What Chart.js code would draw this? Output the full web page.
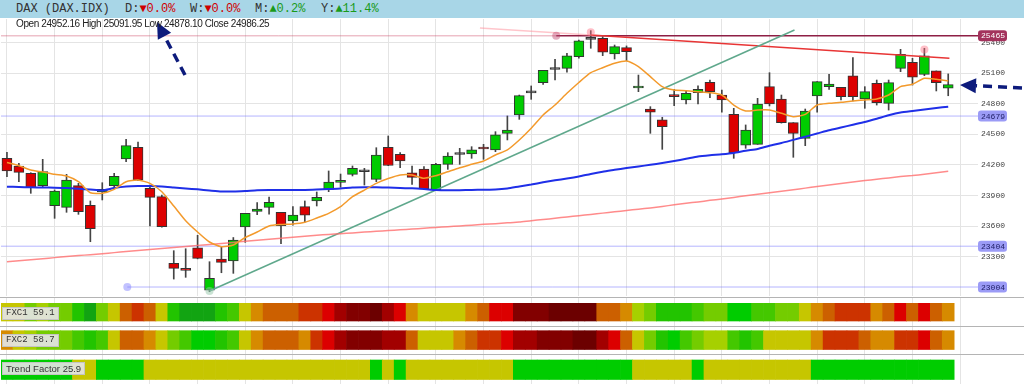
<!DOCTYPE html>
<html>
<head>
<meta charset="utf-8">
<script src="https://cdn.jsdelivr.net/npm/chart.js@4.4.1/dist/chart.umd.min.js"></script>
<style>
  body { margin: 0; background: #fff; }
  #wrap { position: relative; width: 1024px; height: 384px; overflow: hidden; background: #fff; }
  #header { position: absolute; left: 0; top: 0; width: 1024px; height: 18px; background: #a8d6e7;
            font: 12px "Liberation Mono", "DejaVu Sans Mono", monospace; color: #333; line-height: 18px; white-space: pre; }
  #header span.t { position: absolute; top: 0; }
  .dn { color: #d00000; }
  .up { color: #1a9a1a; }
  #ohlc { position: absolute; left: 16px; top: 18px; font: 10px "Liberation Sans", Arial, sans-serif;
          letter-spacing: -0.4px; color: #222; white-space: pre; line-height: 12px; z-index: 2; }
  #main { position: absolute; left: 0; top: 19px; }
  #panes { position: absolute; left: 0; top: 297px; }
  .tag { position: absolute; left: 2px; background: rgba(228,228,228,0.92); border: 1px solid #c4c4c4;
         color: #333; padding: 0 3px; height: 11px; line-height: 11px; white-space: pre; z-index: 2; }
  .mono { font: 9px "Liberation Mono", "DejaVu Sans Mono", monospace; }
  .sans { font: 9.5px "Liberation Sans", Arial, sans-serif; }
</style>
</head>
<body>
<div id="wrap">
  <div id="header">
    <span class="t" style="left:16px">DAX (DAX.IDX)</span>
    <span class="t" style="left:125px">D:<span class="dn">▼0.0%</span></span>
    <span class="t" style="left:190px">W:<span class="dn">▼0.0%</span></span>
    <span class="t" style="left:255px">M:<span class="up">▲0.2%</span></span>
    <span class="t" style="left:321px">Y:<span class="up">▲11.4%</span></span>
  </div>
  <div id="ohlc"></div>
  <canvas id="main" width="1024" height="277"></canvas>
  <canvas id="panes" width="1024" height="87"></canvas>
  <div class="tag mono" style="top:307px">FXC1 59.1</div>
  <div class="tag mono" style="top:334px">FXC2 58.7</div>
  <div class="tag sans" style="top:362px">Trend Factor 25.9</div>
</div>

<script>
// Daily candles
const opens = [24265,24190,24118,23997,23801,23785,23997,23805,23935,23997,
  24258,24373,23971,23889,23236,23187,23389,22974,23278,23259,
  23592,23744,23785,23736,23651,23791,23847,23961,24030,24108,
  24136,24059,24373,24304,24124,24160,23957,24206,24304,24307,
  24369,24347,24510,24690,24908,25006,25137,25147,25261,25431,
  25441,25287,25349,24954,24748,24641,24885,24837,24908,25010,
  24885,24696,24395,24402,24967,24846,24614,24461,24876,24967,
  24961,25072,24846,25000,24804,25147,25206,25088,25121,24952.16];
const highs = [24324,24216,24124,24255,23955,24108,24020,23847,24026,24118,
  24451,24425,24004,23906,23360,23379,23511,23252,23393,23489,
  23726,23832,23886,23736,23791,23847,23935,24141,24111,24190,
  24167,24369,24484,24320,24190,24183,24216,24320,24363,24379,
  24402,24526,24680,24885,24974,25127,25235,25294,25424,25516,
  25457,25375,25366,25081,24771,24667,24941,24928,24974,25032,
  24934,24755,24592,24853,25104,24885,24614,24748,25016,25088,
  24961,25251,24967,25032,25032,25333,25245,25343,25121,25091.95];
const lows = [24085,24036,23922,23981,23677,23736,23716,23448,23857,23971,
  24232,24045,23602,23590,23082,23099,23280,22958,23144,23138,
  23442,23714,23717,23428,23609,23641,23798,23938,23981,24092,
  24003,24036,24193,24173,24010,23964,23948,24157,24206,24265,
  24255,24330,24445,24647,24843,24990,25032,25108,25245,25343,
  25271,25238,25222,24918,24510,24353,24781,24797,24797,24859,
  24716,24265,24363,24402,24778,24610,24275,24389,24716,24941,
  24836,24827,24755,24787,24738,25114,24983,25075,24925,24878.10];
const closes = [24141,24128,23977,24134,23945,24052,23742,23575,23961,24089,
  24389,24052,23883,23595,23187,23167,23285,23089,23246,23464,
  23726,23768,23834,23605,23710,23707,23883,24033,24050,24167,
  24133,24297,24195,24239,24079,23964,24206,24288,24302,24347,
  24356,24494,24542,24879,24906,25127,25135,25268,25415,25430,
  25304,25359,25310,24964,24716,24575,24869,24902,24941,24918,
  24837,24320,24542,24797,24797,24614,24510,24729,25016,24993,
  24869,24869,24918,24810,25006,25284,25059,25268,25006,24986.25];

// Moving averages (orange short, blue medium, pink long)
const maShort = [24224,24193,24150,24131,24108,24092,24036,23928,23922,23961,
  24036,24052,24020,23938,23798,23654,23543,23445,23399,23415,
  23489,23543,23602,23616,23621,23638,23680,23726,23791,23889,
  23954,24020,24067,24102,24102,24069,24095,24134,24173,24206,
  24239,24298,24347,24444,24559,24690,24788,24902,25008,25104,
  25153,25196,25219,25163,25065,24967,24934,24928,24918,24908,
  24885,24787,24729,24738,24738,24706,24673,24696,24787,24804,
  24814,24827,24836,24846,24885,24967,24990,25049,25039,25023];
const maMid = [23987,23984,23981,23979,23977,23974,23967,23959,23950,23974,
  23989,23994,23994,23989,23979,23969,23961,23950,23940,23940,
  23945,23952,23955,23955,23955,23955,23959,23964,23969,23979,
  23981,23981,23979,23974,23971,23964,23955,23952,23952,23955,
  23957,23959,23969,23989,24008,24030,24050,24067,24087,24112,
  24134,24152,24170,24185,24202,24219,24239,24260,24283,24295,
  24304,24317,24340,24356,24389,24415,24446,24477,24508,24540,
  24567,24594,24621,24653,24687,24714,24729,24743,24758,24771];
const maLong = [23252,23262,23271,23282,23292,23302,23312,23321,23331,23341,
  23351,23362,23371,23381,23391,23402,23412,23421,23431,23441,
  23452,23462,23471,23481,23491,23501,23511,23519,23527,23534,
  23542,23550,23557,23564,23572,23580,23587,23595,23603,23610,
  23618,23625,23633,23641,23654,23665,23678,23691,23703,23715,
  23728,23741,23754,23766,23779,23794,23809,23824,23838,23853,
  23867,23882,23898,23912,23928,23943,23957,23973,23988,24003,
  24018,24032,24047,24060,24073,24086,24096,24109,24123,24139];

// Price axis ticks and marked levels
const yTicks = [23300, 23600, 23900, 24200, 24500, 24800, 25100, 25400];
const levelValues = [25465, 24679, 23404, 23004];
const levelAnchors = [46.1, null, null, 10.1];   // candle index where a level was pinned

// Drawn trend lines, as [candle index, price]
const supportLine = [[17, 22965], [66.1, 25522]];
const resistLine = [[49, 25473], [79.1, 25245]];
const resistFaded = [[39.7, 25543], [49, 25473]];
const peakMarks = [[49, 25500], [77, 25330]];

// Indicator strips: each entry is a colour level for that day
const heatPalette = ['#6c0000','#820000','#a20000','#dc0000','#cc3300','#cc6000','#d68a00',
  '#c6c600','#a6d000','#74cc00','#44c800','#22c400','#00cc00','#12a412'];
const fxc1Levels = [7,7,9,8,9,9,11,13,9,7, 5,4,5,7,11,13,13,13,11,10,
  7,6,5,5,5,4,4,3,2,1, 1,0,2,3,6,7,7,7,7,6, 5,3,3,1,1,1,0,0,0,0,
  5,5,6,8,9,11,11,11,10,9, 9,12,12,10,10,9,9,7,6,5, 4,4,4,6,5,3,5,3,5,6];
const fxc2Levels = [6,7,8,9,9,9,10,11,10,7, 5,5,6,7,9,10,12,12,11,10,
  7,6,5,5,5,6,4,3,2,1, 1,1,2,2,5,7,7,7,6,5, 4,4,3,2,2,1,1,1,0,0,
  2,3,5,7,9,11,12,10,9,8, 8,10,11,10,7,7,7,7,6,4, 4,4,5,6,6,4,4,3,5,6];
const trendLevels = [12,12,12,12,12,12,7,7,12,12, 12,12,7,7,7,7,7,7,7,7,
  7,7,7,7,7,7,7,7,7,7, 7,12,7,12,7,7,7,7,7,7, 7,7,7,12,12,12,12,12,12,12,
  12,12,12,7,7,7,7,7,12,7, 7,7,7,7,7,7,7,7,12,12, 12,12,12,12,12,12,12,12,12,12];

// two empty slots on the right, like the original
const dayLabels = Array.from({ length: opens.length + 2 }, (_, i) => i + 1);
const lastX = dayLabels.length - 0.5;

// OHLC line of the last candle
const last = opens.length - 1;
document.getElementById("ohlc").textContent =
  `Open ${opens[last].toFixed(2)} High ${highs[last].toFixed(2)} Low ${lows[last].toFixed(2)} Close ${closes[last].toFixed(2)}`;

const gridColor = (ctx) => (ctx.index % 4 === 0 ? "#e4e4e4" : "rgba(0,0,0,0)");

function candleColor(i) {
  if (Math.abs(closes[i] - opens[i]) < 5) return "#555";
  return closes[i] >= opens[i] ? "#00cc00" : "#dd0000";
}

function segment(points, color, width, order) {
  return {
    type: "line",
    xAxisID: "xl",
    data: points.map(([x, y]) => ({ x, y })),
    borderColor: color,
    borderWidth: width,
    pointRadius: 0,
    order: order,
  };
}

function maLine(values, color, width, order) {
  return {
    type: "line",
    data: values,
    borderColor: color,
    borderWidth: width,
    pointRadius: 0,
    tension: 0.2,
    order: order,
  };
}

// Level lines: faint part before the pin, stronger after
const levelDatasets = [];
const levelStyles = [
  { faint: "rgba(205,70,100,0.5)", strong: "#8e1f45", badge: "#a3325c", text: "#fff" },
  { faint: "rgba(120,120,255,0.55)", strong: "rgba(120,120,255,0.55)", badge: "#9b9bf6", text: "#22226a" },
  { faint: "rgba(120,120,255,0.55)", strong: "rgba(120,120,255,0.55)", badge: "#9b9bf6", text: "#22226a" },
  { faint: "rgba(0,0,0,0)", strong: "rgba(120,120,255,0.55)", badge: "#9b9bf6", text: "#22226a" },
];
levelValues.forEach((v, k) => {
  const pin = levelAnchors[k] === null ? -0.5 : levelAnchors[k];
  const st = levelStyles[k];
  if (pin > -0.5) levelDatasets.push(segment([[-0.5, v], [pin, v]], st.faint, 1, 30));
  levelDatasets.push(segment([[pin, v], [lastX, v]], st.strong, k === 0 ? 1.5 : 1, 30));
});

const pinDots = {
  type: "line",
  xAxisID: "xl",
  showLine: false,
  data: levelValues
    .map((v, k) => (levelAnchors[k] === null ? null : { x: levelAnchors[k], y: v }))
    .filter((p) => p)
    .concat(peakMarks.map(([x, y]) => ({ x, y })))
    .concat([{ x: supportLine[0][0], y: supportLine[0][1] }]),
  pointRadius: 4,
  pointBorderWidth: 0,
  pointBackgroundColor: ["rgba(190,70,110,0.45)", "rgba(120,120,255,0.45)",
    "rgba(255,110,130,0.45)", "rgba(255,110,130,0.45)", "rgba(150,200,170,0.5)"],
  order: 2,
};

// Badges for marked levels on the price axis
const levelBadgePlugin = {
  id: "levelBadges",
  afterDraw(chart) {
    const { ctx, chartArea, scales } = chart;
    ctx.save();
    ctx.font = '8px "Liberation Mono", monospace';
    ctx.textBaseline = "middle";
    levelValues.forEach((v, k) => {
      const y = scales.y.getPixelForValue(v);
      ctx.fillStyle = levelStyles[k].badge;
      ctx.beginPath();
      ctx.roundRect(chartArea.right, y - 5.5, 29, 11, 3);
      ctx.fill();
      ctx.fillStyle = levelStyles[k].text;
      ctx.fillText(String(v), chartArea.right + 3, y + 0.5);
    });
    ctx.restore();
  },
};

function drawDashedArrow(ctx, x1, y1, x2, y2) {
  const ang = Math.atan2(y2 - y1, x2 - x1);
  const head = 16, half = 7.5;
  const bx = x2 - head * Math.cos(ang);
  const by = y2 - head * Math.sin(ang);
  ctx.save();
  ctx.strokeStyle = "#0d1b7c";
  ctx.fillStyle = "#0d1b7c";
  ctx.lineWidth = 3.5;
  ctx.setLineDash([9, 6]);
  ctx.beginPath();
  ctx.moveTo(x1, y1);
  ctx.lineTo(bx, by);
  ctx.stroke();
  ctx.setLineDash([]);
  ctx.beginPath();
  ctx.moveTo(x2, y2);
  ctx.lineTo(bx + half * Math.sin(ang), by - half * Math.cos(ang));
  ctx.lineTo(bx - half * Math.sin(ang), by + half * Math.cos(ang));
  ctx.closePath();
  ctx.fill();
  ctx.restore();
}

// Hand-drawn annotation arrows
const arrowPlugin = {
  id: "arrows",
  afterDraw(chart) {
    drawDashedArrow(chart.ctx, 185, 56, 157, 3);
    drawDashedArrow(chart.ctx, 1022, 69, 960, 66);
  },
};

new Chart(document.getElementById("main"), {
  data: {
    labels: dayLabels,
    datasets: [
      maLine(maShort, "#f39a2c", 1.5, 1),
      maLine(maMid, "#1f2fe8", 2, 1),
      maLine(maLong, "rgba(255,110,110,0.8)", 1.5, 1),
      segment(supportLine, "#5fa88c", 1.5, 3),
      segment(resistLine, "#e83535", 1.5, 3),
      segment(resistFaded, "rgba(255,150,160,0.55)", 1.5, 3),
      pinDots,
      ...levelDatasets,
      {
        type: "bar",
        data: opens.map((o, i) => [o, closes[i]]),
        backgroundColor: opens.map((_, i) => candleColor(i)),
        borderColor: "#333",
        borderWidth: 1,
        borderSkipped: false,
        barThickness: 10,
        minBarLength: 2,
        grouped: false,
        order: 10,
      },
      {
        type: "bar",
        data: lows.map((l, i) => [l, highs[i]]),
        backgroundColor: "#444",
        barThickness: 1,
        grouped: false,
        order: 11,
      },
    ],
  },
  options: {
    responsive: false,
    animation: false,
    layout: { autoPadding: false, padding: { left: 1, right: 0, top: 0, bottom: 0 } },
    plugins: { legend: { display: false }, tooltip: { enabled: false } },
    scales: {
      x: {
        type: "category",
        offset: true,
        grid: { offset: false, color: gridColor, drawTicks: false },
        ticks: { display: false },
        border: { display: false },
        afterFit: (s) => { s.height = 0; s.paddingLeft = 0; s.paddingRight = 0; },
      },
      xl: { type: "linear", display: false, min: -0.5, max: lastX },
      y: {
        position: "right",
        min: 22916,
        max: 25630,
        afterBuildTicks: (s) => { s.ticks = yTicks.map((v) => ({ value: v })); },
        // fixed axis width, and no extra room for the edge labels
        afterFit: (s) => { s.width = 46; s.paddingTop = 0; s.paddingBottom = 0; },
        grid: { color: "#e4e4e4", drawTicks: false },
        border: { display: false },
        ticks: {
          color: "#444",
          padding: 3,
          font: { family: '"Liberation Mono", monospace', size: 8 },
          callback: (v) => String(v),
        },
      },
    },
  },
  plugins: [levelBadgePlugin, arrowPlugin],
});

// ---- indicator panes ----
const paneBands = [[6.3, 24], [33.7, 52.5], [63, 82.5]];
const paneLines = [0.5, 29.5, 57.5];

function heatRow(levels, band) {
  return {
    data: levels.map(() => band),
    backgroundColor: levels.map((l) => heatPalette[l]),
    borderWidth: 0,
    barPercentage: 1,
    categoryPercentage: 1,
    grouped: false,
  };
}

const separatorPlugin = {
  id: "separators",
  beforeDatasetsDraw(chart) {
    const ctx = chart.ctx;
    ctx.save();
    ctx.strokeStyle = "#b4b4b4";
    ctx.lineWidth = 1;
    paneLines.forEach((y) => {
      ctx.beginPath();
      ctx.moveTo(0, y);
      ctx.lineTo(chart.width, y);
      ctx.stroke();
    });
    ctx.restore();
  },
};

new Chart(document.getElementById("panes"), {
  type: "bar",
  data: {
    labels: dayLabels,
    datasets: [
      heatRow(fxc1Levels, paneBands[0]),
      heatRow(fxc2Levels, paneBands[1]),
      heatRow(trendLevels, paneBands[2]),
    ],
  },
  options: {
    responsive: false,
    animation: false,
    layout: { autoPadding: false, padding: { left: 1, right: 46, top: 0, bottom: 0 } },
    plugins: { legend: { display: false }, tooltip: { enabled: false } },
    scales: {
      x: {
        offset: true,
        grid: { offset: false, color: gridColor, drawTicks: false },
        ticks: { display: false },
        border: { display: false },
        afterFit: (s) => { s.height = 0; },
      },
      y: { display: false, min: 0, max: 87, reverse: true },
    },
  },
  plugins: [separatorPlugin],
});
</script>
</body>
</html>
